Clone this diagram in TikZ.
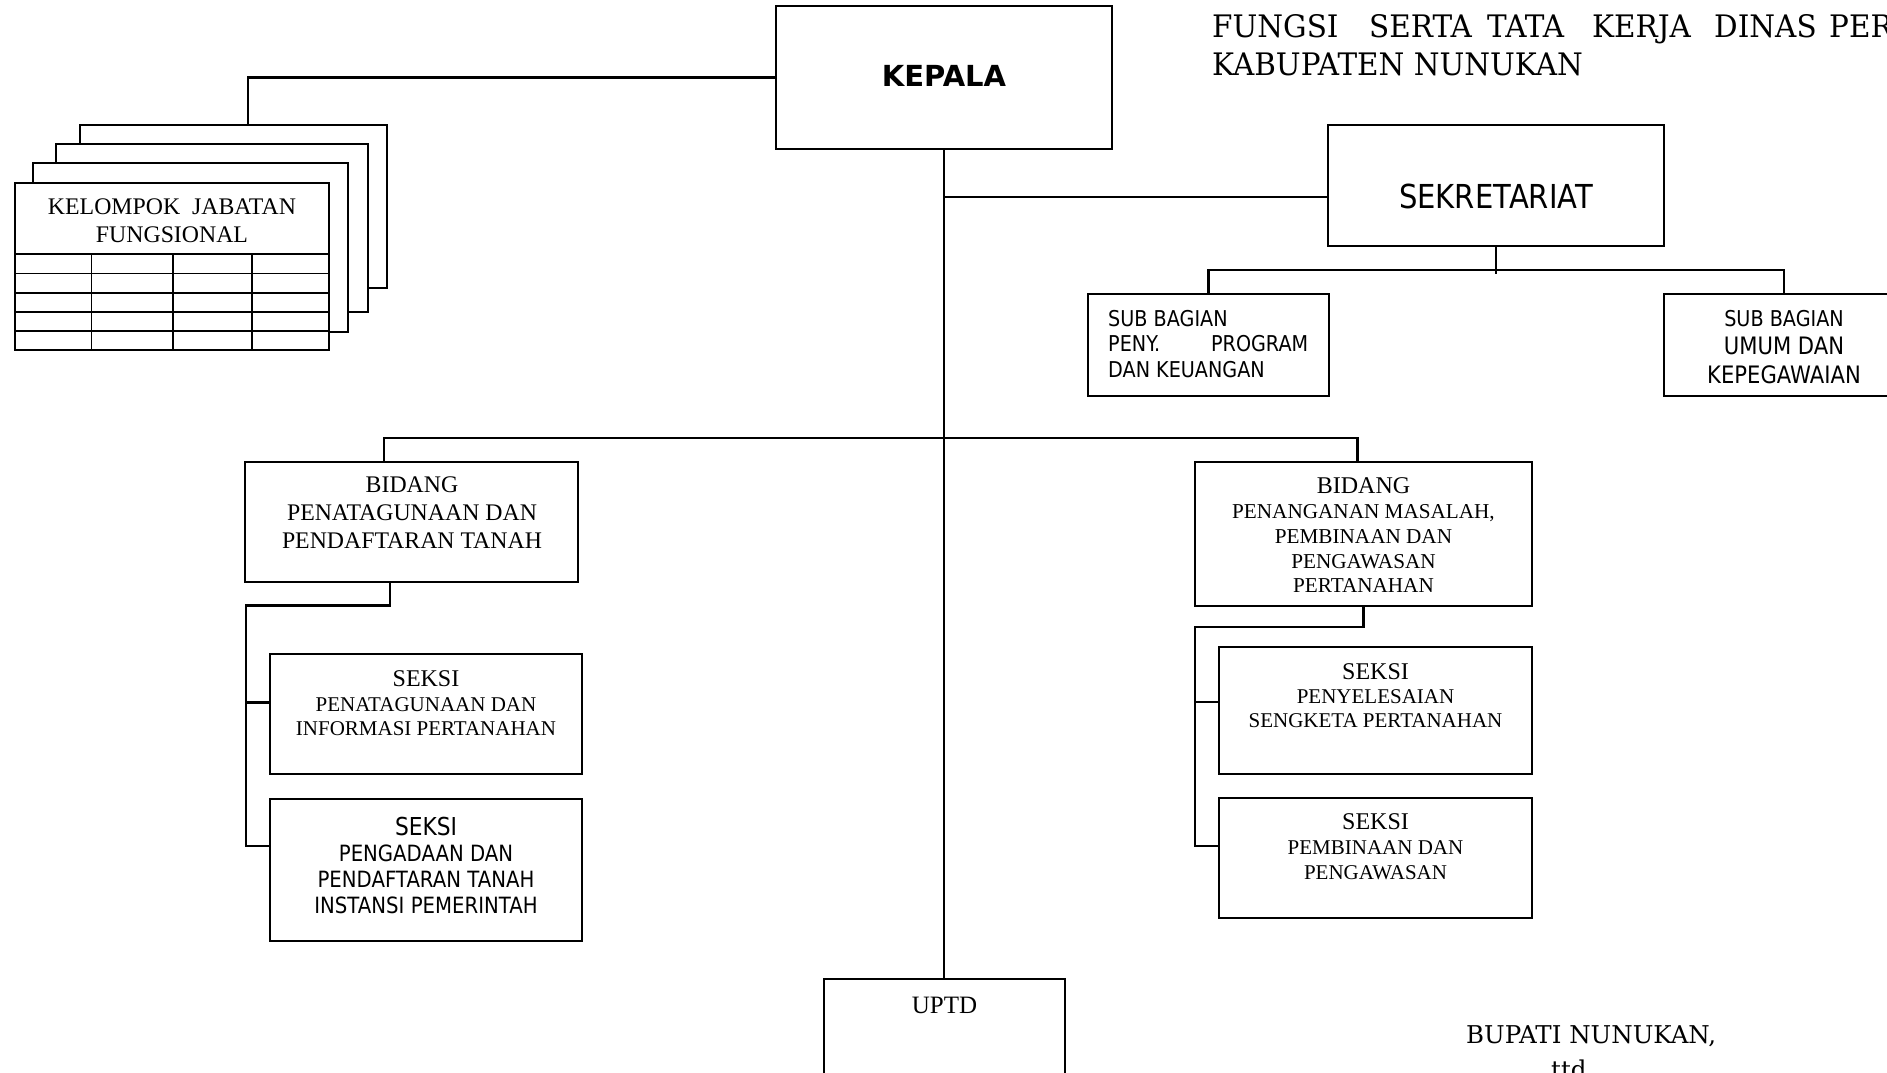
\documentclass[tikz,border=0pt]{standalone}
\usepackage{fontspec}
\setmainfont{Liberation Serif}
\newfontfamily\tahoma[FakeStretch=0.88]{DejaVu Sans}
\newfontfamily\kepfont{DejaVu Sans}
\newfontfamily\bookfont{DejaVu Serif}
\newfontfamily\titlefont[FakeStretch=0.95]{DejaVu Serif}
\tikzset{
  box/.style={draw, line width=2.2pt, inner sep=0pt, outer sep=0pt, anchor=north west, fill=white},
  conn/.style={line width=2.2pt},
  txt/.style={inner sep=0pt, align=center, anchor=north},
  tline/.style={line width=1.8pt}
}
\begin{document}
\begin{tikzpicture}[x=1pt,y=-1pt]
\useasboundingbox (0,0) rectangle (1887,1072);
\clip (0,0) rectangle (1887,1072);

% ---- boxes ----
\node[box, minimum width=336pt, minimum height=143pt] (kepala) at (776,6) {};
\node[box, minimum width=336pt, minimum height=121pt] (sek) at (1328,125) {};
\node[box, minimum width=241pt, minimum height=102pt] (sb1) at (1088,294) {};
\node[box, minimum width=240pt, minimum height=102pt] (sb2) at (1664,294) {};
\node[box, minimum width=333pt, minimum height=120pt] (bl) at (245,462) {};
\node[box, minimum width=337pt, minimum height=144pt] (br) at (1195,462) {};
\node[box, minimum width=312pt, minimum height=120pt] (sl1) at (270,654) {};
\node[box, minimum width=312pt, minimum height=142pt] (sl2) at (270,799) {};
\node[box, minimum width=313pt, minimum height=127pt] (sr1) at (1219,647) {};
\node[box, minimum width=313pt, minimum height=120pt] (sr2) at (1219,798) {};
\node[box, minimum width=241pt, minimum height=110pt] (uptd) at (824,979) {};

% kelompok jabatan fungsional stack
\node[box, minimum width=307pt, minimum height=163pt] (kb4) at (80,125) {};
\node[box, minimum width=312pt, minimum height=168pt] (kb3) at (56,144) {};
\node[box, minimum width=315pt, minimum height=169pt] (kb2) at (33,163) {};
\node[box, minimum width=314pt, minimum height=167pt] (kb1) at (15,183) {};
\foreach \yy in {254,273.5,292.75,312,331}
  \draw[tline] (kb1.west |- 0,\yy) -- (kb1.east |- 0,\yy);
\foreach \xx in {91.5,173,252}
  \draw[tline] (\xx,254) -- (\xx,0 |- kb1.south);

% ---- connectors ----
\draw[conn] (kepala.west) -| ([xshift=14.5pt]kb4.north);
\draw[conn] (kepala.south) -- (kepala.south |- uptd.north);
\draw[conn] ([yshift=-11.5pt]sek.west) -- ([yshift=-11.5pt]sek.west -| kepala.south);
\draw[conn] (sek.south) -- ++(0,28);
\draw[conn] (sb1.north) -- ++(0,-24) -| (sb2.north);
\draw[conn] ([xshift=-27.5pt]bl.north) -- ++(0,-24) -| ([xshift=-6pt]br.north);

\coordinate (lsp) at (246,605.5);
\draw[conn] ([xshift=-21.5pt]bl.south) |- (lsp) |- ([yshift=24pt]sl2.west);
\draw[conn] ([yshift=11.5pt]sl1.west) -- ++(-24,0);

\coordinate (rsp) at (1195,627);
\draw[conn] (br.south) |- (rsp) |- ([yshift=11.75pt]sr2.west);
\draw[conn] ([yshift=8.5pt]sr1.west) -- ++(-24,0);

% ---- texts ----
\node[inner sep=0pt, anchor=base] (kepT) at (944,86) {\kepfont\bfseries\fontsize{29}{29}\selectfont KEPALA};
\node[inner sep=0pt, anchor=base, font=\tahoma\fontsize{33}{33}\selectfont] (sekT) at (1496,208) {SEKRETARIAT};
\node[inner sep=0pt, anchor=north west, align=left, font=\tahoma\fontsize{21.8}{25.5}\selectfont] (sb1T) at (1108,309.8)
  {SUB BAGIAN\\\hbox to 200pt{PENY.\hfill PROGRAM}\\DAN KEUANGAN};
\node[txt, font=\tahoma\fontsize{24}{28.5}\selectfont] (sb2T) at (1784,309.8)
  {{\fontsize{21.8}{21.8}\selectfont SUB BAGIAN}\\UMUM DAN\\KEPEGAWAIAN};

\node[txt, font=\fontsize{23.8}{28}\selectfont] (kT) at (172,199) {KELOMPOK\ \ JABATAN\\FUNGSIONAL};
\node[txt, font=\fontsize{23.8}{28}\selectfont] (blT) at (412,477) {BIDANG\\PENATAGUNAAN DAN\\PENDAFTARAN TANAH};
\node[txt, font=\fontsize{21}{24.5}\selectfont] (sl1T) at (426,670.8)
  {{\fontsize{24}{24}\selectfont SEKSI}\\PENATAGUNAAN DAN\\INFORMASI PERTANAHAN};
\node[txt, font=\tahoma\fontsize{22.4}{26}\selectfont] (sl2T) at (426,816.7)
  {{\fontsize{24.7}{24.7}\selectfont SEKSI}\\PENGADAAN DAN\\PENDAFTARAN TANAH\\INSTANSI PEMERINTAH};
\node[txt, font=\fontsize{21.2}{24.75}\selectfont] (brT) at (1363.5,477.75)
  {{\fontsize{24}{24}\selectfont BIDANG}\\PENANGANAN MASALAH,\\PEMBINAAN DAN\\PENGAWASAN\\PERTANAHAN};
\node[txt, font=\fontsize{21}{24}\selectfont] (sr1T) at (1375.5,663.75)
  {{\fontsize{24}{24}\selectfont SEKSI}\\PENYELESAIAN\\SENGKETA PERTANAHAN};
\node[txt, font=\fontsize{21}{25}\selectfont] (sr2T) at (1375.5,813.75)
  {{\fontsize{24}{24}\selectfont SEKSI}\\PEMBINAAN DAN\\PENGAWASAN};
\node[inner sep=0pt, anchor=base, font=\fontsize{25}{25}\selectfont] (uptdT) at (944.5,1013) {UPTD};

% title (top right)
\begin{scope}[every node/.style={inner sep=0pt, anchor=base west, font=\titlefont\fontsize{31}{31}\selectfont}]
\node (t1) at (1212,37) {FUNGSI};
\node (t2) at (1369,37) {SERTA};
\node (t3) at (1487,37) {TATA};
\node (t4) at (1592,37) {KERJA};
\node (t5) at (1714,37) {DINAS};
\node (t6) at (1829,37) {PERTANAHAN};
\node (t7) at (1212,75) {KABUPATEN NUNUKAN};
\end{scope}

% signature
\node[inner sep=0pt, anchor=base west, font=\bookfont\fontsize{24.5}{24.5}\selectfont] (bup) at (1466,1043) {BUPATI NUNUKAN,};
\node[inner sep=0pt, anchor=base west, font=\bookfont\fontsize{24.5}{24.5}\selectfont] (ttd) at (1551,1078) {ttd};
\end{tikzpicture}
\end{document}
